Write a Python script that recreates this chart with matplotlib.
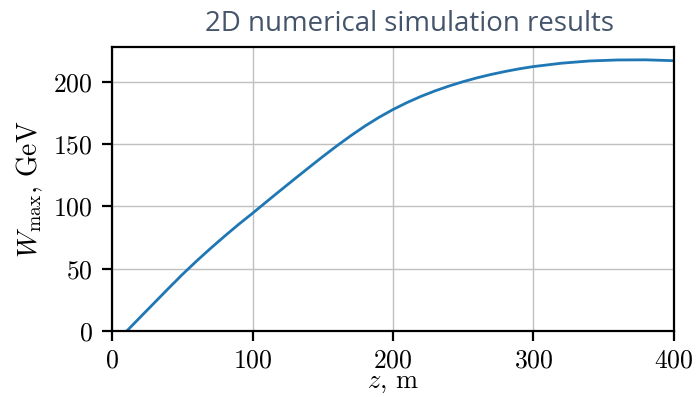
import numpy as np
import matplotlib.pyplot as plt

plt.rcParams['font.family'] = 'serif'
plt.rcParams['font.serif'] = ['cmr10']
plt.rcParams['mathtext.fontset'] = 'cm'
plt.rcParams['axes.formatter.use_mathtext'] = True

# values
z = [10.5, 20, 30, 40, 50, 60, 70, 80, 90, 100, 110, 120, 130, 140, 150, 160, 170,
     180, 190, 200, 210, 220, 230, 240, 250, 260, 270, 280, 290, 300, 320, 340,
     360, 380, 400]
w_max = [0, 11, 22.5, 34, 45.3, 56, 66.2, 76, 85.5, 94.5, 103.8, 113, 122.1, 131.1,
         140, 148.6, 156.8, 164.5, 171.5, 177.8, 183.4, 188.4, 192.8, 196.7, 200.2,
         203.3, 206, 208.4, 210.5, 212.3, 215, 216.8, 217.6, 217.7, 217]

fig = plt.figure(figsize=(6.98, 3.97), dpi=100)
ax = fig.add_axes([0.1605, 0.1662, 0.805, 0.7154])

ax.plot(z, w_max, color='#1f77b4', lw=2)
ax.set_xlim(0, 400)
ax.set_ylim(0, 228)
ax.set_xticks([0, 100, 200, 300, 400])
ax.set_yticks([0, 50, 100, 150, 200])
ax.grid(True, color='#c0c0c0', lw=1)
for s in ax.spines.values():
    s.set_linewidth(1.6)
ax.tick_params(direction='out', length=7, width=1.6, labelsize=18.5)
ax.tick_params(axis='x', pad=6)
ax.tick_params(axis='y', pad=7)
ax.set_xlabel(r'$z$, m', fontsize=19, labelpad=-1)
ax.set_ylabel(r'$W_{\max}$, GeV', fontsize=20, labelpad=6)

fig.text(0.5867, 1 - 31 / 397, '2D numerical simulation results', ha='center',
         va='baseline', fontsize=19.9, color='#44546a', family='Open Sans')

fig.savefig('out.png', dpi=100)
